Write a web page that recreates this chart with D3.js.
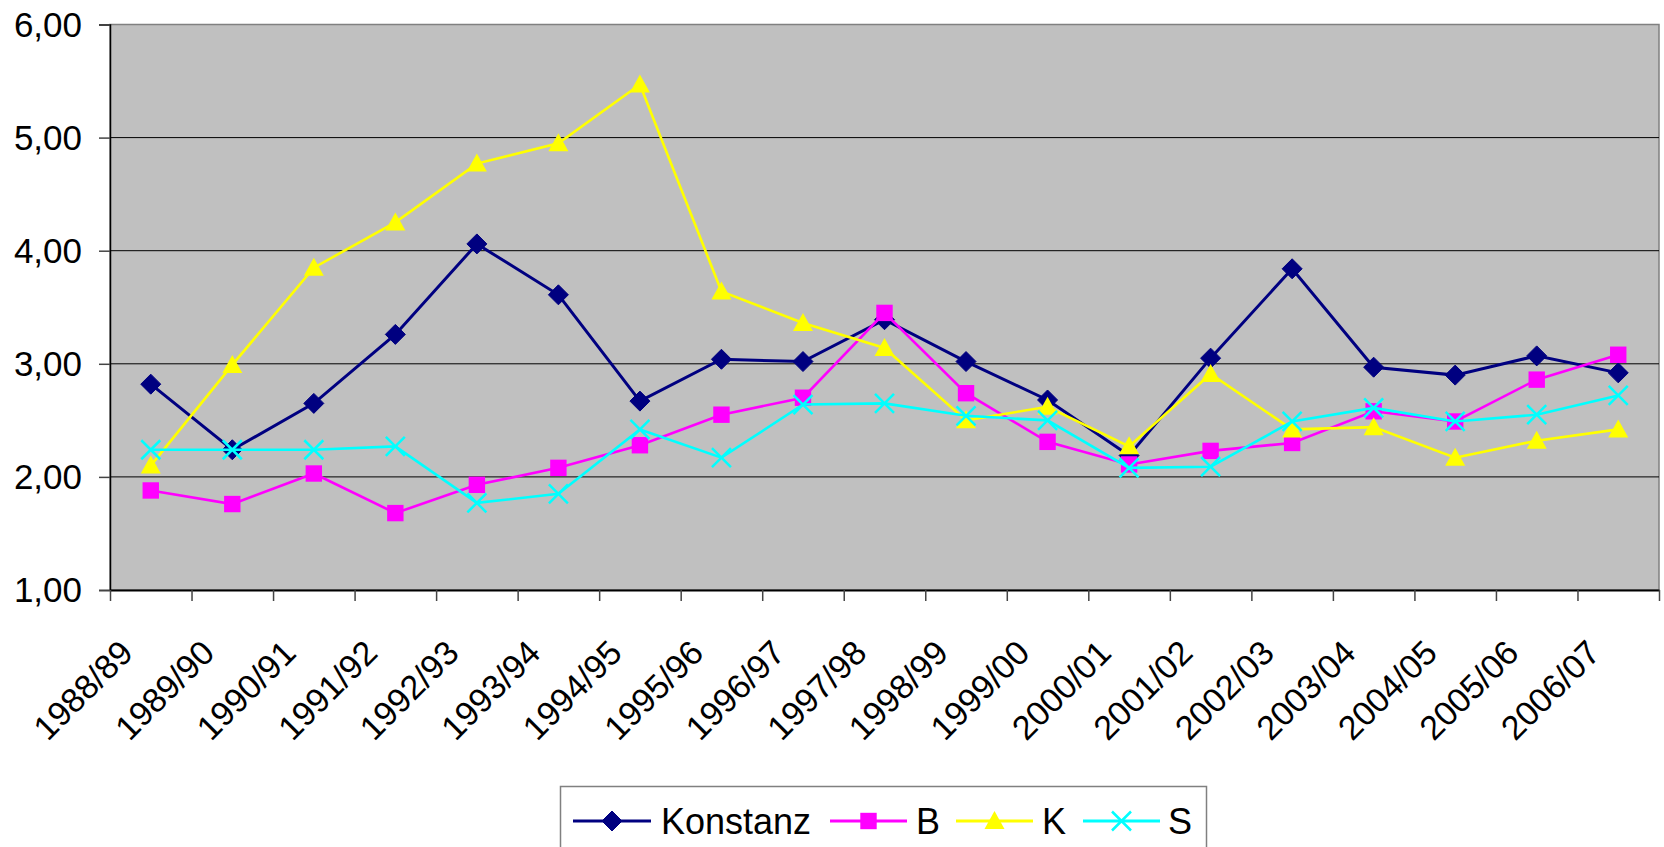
<!DOCTYPE html>
<html>
<head>
<meta charset="utf-8">
<script src="https://cdn.jsdelivr.net/npm/d3@7"></script>
<style>
  html, body { margin: 0; padding: 0; background: #ffffff; }
  svg { display: block; }
  text { font-family: Arial, "Liberation Sans", sans-serif; fill: #000; }
</style>
</head>
<body>
<svg id="chart" width="1664" height="847"></svg>
<script>
const categories = ["1988/89","1989/90","1990/91","1991/92","1992/93","1993/94","1994/95","1995/96","1996/97","1997/98","1998/99","1999/00","2000/01","2001/02","2002/03","2003/04","2004/05","2005/06","2006/07"];
const konstanz = [2.82,2.24,2.65,3.26,4.06,3.61,2.67,3.04,3.02,3.39,3.02,2.68,2.19,3.05,3.84,2.97,2.90,3.07,2.92];
const bValues  = [1.88,1.76,2.03,1.68,1.93,2.08,2.28,2.55,2.70,3.45,2.74,2.31,2.11,2.23,2.30,2.58,2.49,2.86,3.08];
const kValues  = [2.10,2.99,3.85,4.25,4.77,4.95,5.47,3.64,3.36,3.14,2.50,2.62,2.27,2.91,2.42,2.44,2.17,2.32,2.42];
const sValues  = [2.24,2.24,2.24,2.27,1.77,1.85,2.42,2.17,2.64,2.65,2.54,2.50,2.08,2.09,2.49,2.61,2.49,2.55,2.72];
const seriesNames = ["Konstanz","B","K","S"];
const yTickValues = [1,2,3,4,5,6];
const yTickLabels = ["1,00","2,00","3,00","4,00","5,00","6,00"];

const series = [
  {name: seriesNames[0], values: konstanz, color: "#000080", marker: "diamond"},
  {name: seriesNames[1], values: bValues,  color: "#FF00FF", marker: "square"},
  {name: seriesNames[2], values: kValues,  color: "#FFFF00", marker: "triangle"},
  {name: seriesNames[3], values: sValues,  color: "#00FFFF", marker: "cross"}
];

const svg = d3.select("#chart");
const plot = {left: 110, right: 1659, top: 24.5, bottom: 590};

const x = d3.scaleBand().domain(categories).range([plot.left, plot.right]).padding(0);
const xEdge = d3.scaleLinear().domain([0, categories.length]).range([plot.left, plot.right]);
const y = d3.scaleLinear().domain([1, 6]).range([plot.bottom, plot.top]);

// plot background
svg.append("rect")
  .attr("x", plot.left).attr("y", plot.top)
  .attr("width", plot.right - plot.left).attr("height", plot.bottom - plot.top)
  .attr("fill", "#C0C0C0").attr("stroke", "#808080").attr("stroke-width", 1.5);

// gridlines
svg.append("g").selectAll("line")
  .data(yTickValues.filter(v => v > 1 && v < 6))
  .join("line")
  .attr("x1", plot.left).attr("x2", plot.right)
  .attr("y1", d => y(d)).attr("y2", d => y(d))
  .attr("stroke", "#000").attr("stroke-width", 1);

// y axis
const yAxis = d3.axisLeft(y).tickValues(yTickValues)
  .tickFormat((d, i) => yTickLabels[i]).tickSize(11).tickPadding(17);
const gy = svg.append("g").attr("transform", `translate(${plot.left},0)`).call(yAxis);
gy.select(".domain").attr("stroke", "#000").attr("stroke-width", 1.5);
gy.selectAll(".tick line").attr("stroke", "#444").attr("stroke-width", 1.5);
gy.selectAll(".tick text").attr("font-size", 35).attr("font-family", "Arial, 'Liberation Sans', sans-serif").attr("fill", "#000").attr("dy", "0.33em");

// x axis boundary ticks
const xAxisTicks = d3.axisBottom(xEdge).tickValues(d3.range(categories.length + 1))
  .tickFormat("").tickSize(11).tickSizeOuter(0);
const gx = svg.append("g").attr("transform", `translate(0,${plot.bottom})`).call(xAxisTicks);
gx.select(".domain").attr("stroke", "#000").attr("stroke-width", 2);
gx.selectAll(".tick line").attr("stroke", "#444").attr("stroke-width", 1.5);

// x labels rotated
svg.append("g").selectAll("text")
  .data(categories)
  .join("text")
  .attr("transform", d => `translate(${x(d) + x.bandwidth() / 2 - 16},${655}) rotate(-45)`)
  .attr("text-anchor", "end")
  .attr("font-size", 34)
  .text(d => d);

// marker drawer
function drawMarker(sel, type, color, size) {
  if (type === "diamond") {
    sel.append("path").attr("d", `M0,${-size}L${size},0L0,${size}L${-size},0Z`).attr("fill", color).attr("stroke", color).attr("stroke-width", 1);
  } else if (type === "square") {
    const s = size * 0.82;
    sel.append("rect").attr("x", -s).attr("y", -s).attr("width", 2 * s).attr("height", 2 * s).attr("fill", color);
  } else if (type === "triangle") {
    sel.append("path").attr("d", `M0,${-size}L${size},${size * 0.8}L${-size},${size * 0.8}Z`).attr("fill", color);
  } else if (type === "cross") {
    const s = size * 0.95;
    sel.append("path").attr("d", `M${-s},${-s}L${s},${s}M${-s},${s}L${s},${-s}`).attr("stroke", color).attr("stroke-width", 2.5).attr("fill", "none");
  }
}

const line = d3.line().x((d, i) => x(categories[i]) + x.bandwidth() / 2).y(d => y(d));

series.forEach(s => {
  const g = svg.append("g");
  g.append("path").datum(s.values).attr("d", line)
    .attr("fill", "none").attr("stroke", s.color).attr("stroke-width", s.marker === "diamond" ? 3 : 2.6);
  g.selectAll("g.pt").data(s.values).join("g").attr("class", "pt")
    .attr("transform", (d, i) => `translate(${x(categories[i]) + x.bandwidth() / 2},${y(d)})`)
    .each(function() { drawMarker(d3.select(this), s.marker, s.color, 10); });
});

// legend
const legend = svg.append("g");
legend.append("rect").attr("x", 560.5).attr("y", 786.5).attr("width", 646).attr("height", 80)
  .attr("fill", "#fff").attr("stroke", "#808080").attr("stroke-width", 1.5);
const legendItems = [
  {lx1: 573, lx2: 651, tx: 661},
  {lx1: 830, lx2: 907, tx: 916},
  {lx1: 956, lx2: 1033, tx: 1042},
  {lx1: 1083, lx2: 1160, tx: 1168}
];
const ly = 821;
series.forEach((s, i) => {
  const it = legendItems[i];
  legend.append("line").attr("x1", it.lx1).attr("x2", it.lx2).attr("y1", ly).attr("y2", ly)
    .attr("stroke", s.color).attr("stroke-width", 3);
  const mg = legend.append("g").attr("transform", `translate(${(it.lx1 + it.lx2) / 2},${ly})`);
  drawMarker(mg, s.marker, s.color, 10);
  legend.append("text").attr("x", it.tx).attr("y", ly).attr("dy", "0.36em")
    .attr("font-size", 36).text(s.name);
});
</script>
</body>
</html>
